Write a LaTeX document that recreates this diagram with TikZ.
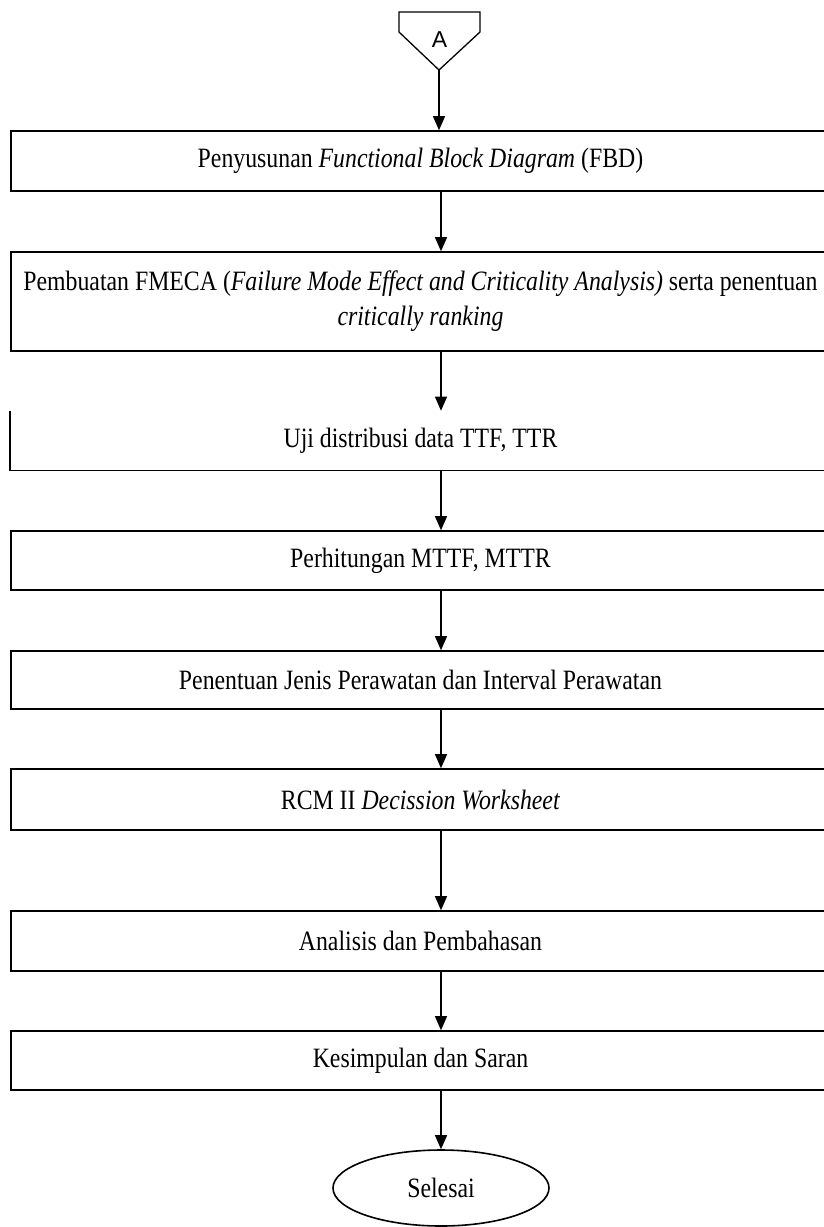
\documentclass[tikz,border=0pt]{standalone}
\usepackage{fontspec}
\setmainfont{Liberation Serif}[FakeStretch=0.85]
\newfontfamily\labelsans{Liberation Sans}
\usetikzlibrary{arrows.meta,shapes.geometric}
\begin{document}
\begin{tikzpicture}[x=1pt,y=-1pt,
  line width=1.6pt,
  every node/.style={font=\fontsize{28}{35}\selectfont},
  stepbox/.style={draw, rectangle, minimum width=819pt, inner sep=0pt, align=center},
  flow/.style={-{Triangle[length=14pt,width=12pt]}, line width=1.3pt},
  endnode/.style={draw, ellipse, minimum width=216pt, minimum height=76pt, inner sep=0pt}]
\useasboundingbox (0,0) rectangle (824,1227);
\clip (0,0) rectangle (824,1227);
\fill[white] (0,0) rectangle (824,1227);

% off-page connector
\draw[line width=1.3pt, line join=miter] (399,12) -- (480,12) -- (480,32) -- (439,70) -- (399,32) -- cycle;
\node[font=\labelsans\fontsize{23}{26}\selectfont] (A) at (439.5,40) {A};
\coordinate (Atip) at (439,70);

% process steps
\node[stepbox, minimum height=60pt] (b1) at (420.5,161) {Penyusunan \textit{Functional Block Diagram} (FBD)};
\node[stepbox, minimum height=99pt] (b2) at (420.5,301.5) {Pembuatan FMECA (\textit{Failure Mode Effect and Criticality Analysis)} serta penentuan\\\textit{critically ranking}};
\node[rectangle, minimum width=819pt, minimum height=58pt, inner sep=0pt] (b3) at (420.5,440.5) {Uji distribusi data TTF, TTR};
\draw (b3.north west) -- (b3.south west) -- (b3.south east);
\node[stepbox, minimum height=59pt] (b4) at (420.5,560.5) {Perhitungan MTTF, MTTR};
\node[stepbox, minimum height=58pt] (b5) at (420.5,680) {Penentuan Jenis Perawatan dan Interval Perawatan};
\node[stepbox, minimum height=61pt] (b6) at (420.5,799.5) {RCM II \textit{Decission Worksheet}};
\node[stepbox, minimum height=60pt] (b7) at (420.5,941) {Analisis dan Pembahasan};
\node[stepbox, minimum height=59pt] (b8) at (420.5,1060.5) {Kesimpulan dan Saran};
\node[endnode] (end) at (441,1188) {Selesai};

% connectors
\draw[flow] (Atip) -- (b1.north -| Atip);
\draw[flow] (b1.south -| end.north) -- (b2.north -| end.north);
\draw[flow] (b2.south -| end.north) -- (b3.north -| end.north);
\draw[flow] (b3.south -| end.north) -- (b4.north -| end.north);
\draw[flow] (b4.south -| end.north) -- (b5.north -| end.north);
\draw[flow] (b5.south -| end.north) -- (b6.north -| end.north);
\draw[flow] (b6.south -| end.north) -- (b7.north -| end.north);
\draw[flow] (b7.south -| end.north) -- (b8.north -| end.north);
\draw[flow] (b8.south -| end.north) -- (end.north);
\end{tikzpicture}
\end{document}
